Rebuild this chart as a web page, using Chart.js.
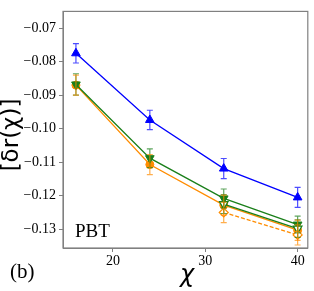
<!DOCTYPE html>
<html>
<head>
<meta charset="utf-8">
<script src="https://cdn.jsdelivr.net/npm/chart.js@4.4.0/dist/chart.umd.min.js"></script>
<style>
  html, body { margin: 0; padding: 0; background: #fff; }
  #wrap { width: 314px; height: 291px; }
</style>
</head>
<body>
<div id="wrap"><canvas id="chart" width="314" height="291"></canvas></div>
<script>
const chiValues = [16, 24, 32, 40];
const xTicks = [20, 30, 40];
const yTicks = [-0.13, -0.12, -0.11, -0.10, -0.09, -0.08, -0.07];

// series values
const blueVals = [-0.0775, -0.0974, -0.1119, -0.1205];
const blueErr = [0.0029, 0.0029, 0.0030, 0.0030];
const greenVals = [-0.0868, -0.1088, -0.1208, -0.1286];
const greenErr = [0.0032, 0.0028, 0.0028, 0.0025];
const orangeVals = [-0.0870, -0.1107, -0.1228, -0.1303];
const orangeErr = [0.0030, 0.0030, 0.0030, 0.0030];
const greenOpenVals = [null, null, -0.1225, -0.1298];
const greenOpenErr = [null, null, 0.0028, 0.0026];
const orangeDashVals = [null, null, -0.1250, -0.1317];
const orangeDashErr = [null, null, 0.0030, 0.0030];

const BLUE = '#0000ff';
const GREEN = '#1a7f1a';
const ORANGE = '#ff8c00';

Chart.defaults.font.family = "'Liberation Serif', serif";

function pts(vals) {
  return chiValues.map((x, i) => ({ x: x, y: vals[i] }));
}

const errorBars = {
  id: 'errorBars',
  afterDatasetsDraw(chart) {
    const ctx = chart.ctx;
    const xs = chart.scales.x;
    const ys = chart.scales.y;
    chart.data.datasets.forEach(ds => {
      if (!ds.err) return;
      ctx.save();
      ctx.strokeStyle = ds.errColor;
      ctx.globalAlpha = 0.7;
      ctx.lineWidth = 1.2;
      ds.data.forEach((p, i) => {
        if (p.y === null || ds.err[i] === null) return;
        const px = xs.getPixelForValue(p.x);
        const top = ys.getPixelForValue(p.y + ds.err[i]);
        const bot = ys.getPixelForValue(p.y - ds.err[i]);
        ctx.beginPath();
        ctx.moveTo(px, top); ctx.lineTo(px, bot);
        ctx.moveTo(px - 3, top); ctx.lineTo(px + 3, top);
        ctx.moveTo(px - 3, bot); ctx.lineTo(px + 3, bot);
        ctx.stroke();
      });
      ctx.restore();
    });
  }
};

const frameAndText = {
  id: 'frameAndText',
  afterDraw(chart) {
    const ctx = chart.ctx;
    const a = chart.chartArea;
    ctx.save();
    ctx.strokeStyle = '#808080';
    ctx.lineWidth = 1.2;
    ctx.strokeRect(a.left, a.top, a.right - a.left, a.bottom - a.top);

    ctx.fillStyle = '#000';
    ctx.textAlign = 'center';
    ctx.textBaseline = 'middle';

    // y axis label
    ctx.save();
    ctx.translate(12, 135);
    ctx.rotate(-Math.PI / 2);
    ctx.font = '23px "DejaVu Sans"';
    ctx.fillText('[δr(χ)]', 0, 0);
    ctx.restore();

    // x axis label
    ctx.font = 'italic 24px "DejaVu Sans"';
    ctx.fillText('χ', 187, 276);

    ctx.textAlign = 'left';
    ctx.font = '19px "Liberation Serif"';
    ctx.fillText('PBT', 75, 232);
    ctx.font = '21px "Liberation Serif"';
    ctx.fillText('(b)', 10, 272);
    ctx.restore();
  }
};

const tickFont = { family: "'Liberation Serif', serif", size: 14 };

new Chart(document.getElementById('chart').getContext('2d'), {
  type: 'line',
  data: {
    datasets: [
      {
        data: pts(blueVals), err: blueErr, errColor: BLUE,
        borderColor: BLUE, backgroundColor: BLUE, borderWidth: 1.3,
        pointStyle: 'triangle', pointRadius: 5, pointBorderWidth: 1
      },
      {
        data: pts(orangeDashVals), err: orangeDashErr, errColor: ORANGE,
        borderColor: ORANGE, backgroundColor: '#fff', borderWidth: 1.3, borderDash: [4, 2],
        pointStyle: 'rectRot', pointRadius: 4.5, pointBorderWidth: 1.2
      },
      {
        data: pts(greenOpenVals), err: greenOpenErr, errColor: GREEN,
        borderColor: GREEN, backgroundColor: '#fff', borderWidth: 1.3,
        pointStyle: 'triangle', pointRotation: 180, pointRadius: 5, pointBorderWidth: 1.2
      },
      {
        data: pts(greenVals), err: greenErr, errColor: GREEN,
        borderColor: GREEN, backgroundColor: GREEN, borderWidth: 1.3,
        pointStyle: 'triangle', pointRotation: 180, pointRadius: 5, pointBorderWidth: 1
      },
      {
        data: pts(orangeVals), err: orangeErr, errColor: ORANGE,
        borderColor: ORANGE, backgroundColor: ORANGE, borderWidth: 1.3,
        pointStyle: 'circle', pointRadius: 4, pointBorderWidth: 1
      }
    ]
  },
  options: {
    responsive: false,
    animation: false,
    devicePixelRatio: 1,
    layout: { padding: { top: 5, right: 6, left: 0, bottom: 0 } },
    plugins: { legend: { display: false }, tooltip: { enabled: false } },
    elements: { line: { tension: 0 } },
    scales: {
      x: {
        type: 'linear', min: 14.6, max: 41.1,
        afterBuildTicks: s => { s.ticks = xTicks.map(v => ({ value: v })); },
        afterFit: s => { s.height = 43; },
        grid: { drawOnChartArea: false, drawTicks: true, tickLength: 4, color: '#808080' },
        border: { display: true, color: '#808080' },
        ticks: { font: tickFont, color: '#000', padding: 1, maxRotation: 0,
          callback: v => String(v) }
      },
      y: {
        type: 'linear', min: -0.1356, max: -0.065,
        afterBuildTicks: s => { s.ticks = yTicks.map(v => ({ value: v })); },
        afterFit: s => { s.width = 63; },
        grid: { drawOnChartArea: false, drawTicks: true, tickLength: 4, color: '#808080' },
        border: { display: true, color: '#808080' },
        ticks: { font: tickFont, color: '#000', padding: 3,
          callback: v => '\u2212' + Math.abs(v).toFixed(2) }
      }
    }
  },
  plugins: [errorBars, frameAndText]
});
</script>
</body>
</html>
